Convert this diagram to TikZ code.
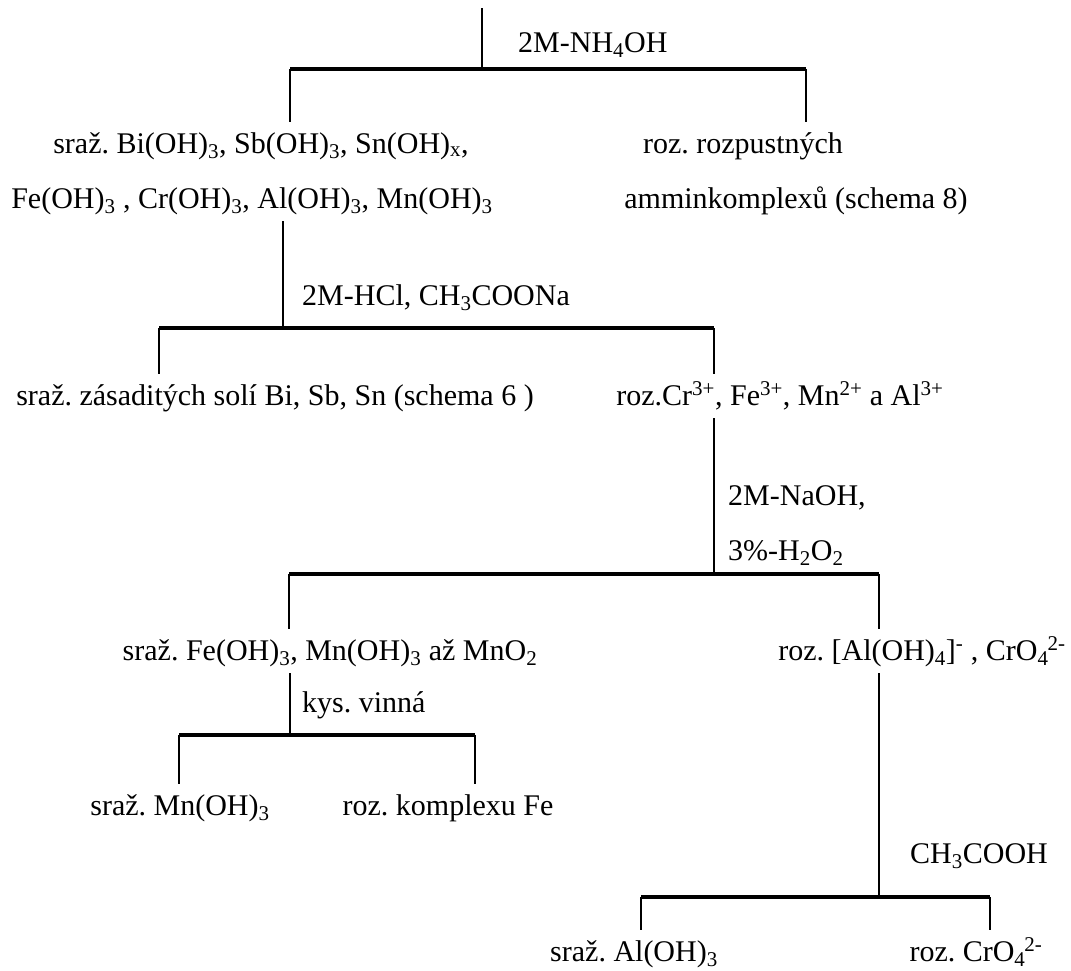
\documentclass[tikz,border=0pt]{standalone}
\usepackage{fontspec}
\setmainfont{Liberation Serif}
\begin{document}
\frenchspacing
\begin{tikzpicture}[x=1pt,y=-1pt,
  txt/.style={font=\fontsize{30}{34}\selectfont\frenchspacing, inner xsep=0pt, inner ysep=6pt, text height=25pt, text depth=7pt, anchor=base},
  lab/.style={font=\fontsize{30}{34}\selectfont\frenchspacing, inner sep=0pt, anchor=base west},
  vline/.style={line width=2.2pt},
  hbar/.style={line width=3.4pt}]
\fill[white] (0,0) rectangle (1071,970);
\useasboundingbox (0,0) rectangle (1071,970);
% junction coordinates
\coordinate (t0) at (482,8);
\coordinate (b1m) at (482,69);
\coordinate (b1L) at (290,69);
\coordinate (b1R) at (806,69);
\coordinate (b2m) at (283,328);
\coordinate (b2L) at (159,328);
\coordinate (b2R) at (714,328);
\coordinate (b3m) at (714,574);
\coordinate (b3L) at (289,574);
\coordinate (b3R) at (879,574);
\coordinate (b4m) at (290,735);
\coordinate (b4L) at (179,735);
\coordinate (b4R) at (475,735);
\coordinate (b5m) at (879,897);
\coordinate (b5L) at (641,897);
\coordinate (b5R) at (990,897);
% texts
\node[txt] (n1a) at (261,153) {sraž. Bi(OH)\textsubscript{3}, Sb(OH)\textsubscript{3}, Sn(OH)\textsubscript{x},};
\node[txt] (n1b) at (252,208) {Fe(OH)\textsubscript{3} , Cr(OH)\textsubscript{3}, Al(OH)\textsubscript{3}, Mn(OH)\textsubscript{3}};
\node[txt] (n1c) at (743,153) {roz. rozpustných};
\node[txt] (n1d) at (796,208) {amminkomplexů (schema 8)};
\node[txt] (n2a) at (275,405) {sraž. zásaditých solí Bi, Sb, Sn (schema 6 )};
\node[txt] (n2b) at (780,405) {roz.Cr\textsuperscript{3+}, Fe\textsuperscript{3+}, Mn\textsuperscript{2+} a Al\textsuperscript{3+}};
\node[txt] (n3a) at (330,660) {sraž. Fe(OH)\textsubscript{3}, Mn(OH)\textsubscript{3} až MnO\textsubscript{2}};
\node[txt] (n3b) at (922,660) {roz. [Al(OH)\textsubscript{4}]\textsuperscript{-} , CrO\textsubscript{4}\kern-1pt\textsuperscript{2-}};
\node[txt] (n4a) at (180,815) {sraž. Mn(OH)\textsubscript{3}};
\node[txt] (n4b) at (448,815) {roz. komplexu Fe};
\node[txt] (n5a) at (634,961) {sraž. Al(OH)\textsubscript{3}};
\node[txt] (n5b) at (976,961) {roz. CrO\textsubscript{4}\kern-1pt\textsuperscript{2-}};
% reagent labels
\node[lab] (r1) at (518,52) {2M-NH\textsubscript{4}OH};
\node[lab] (r2) at (302,305) {2M-HCl, CH\textsubscript{3}COONa};
\node[lab] (r3a) at (728,505) {2M-NaOH,};
\node[lab] (r3b) at (728,560) {3\%-H\textsubscript{2}O\textsubscript{2}};
\node[lab] (r4) at (302,712) {kys. vinná};
\node[lab] (r5) at (910,863) {CH\textsubscript{3}COOH};
% connectors
\draw[vline] (t0) -- (b1m);
\draw[hbar] (b1L) -- (b1R);
\draw[vline] (b1L) -- (b1L |- n1a.north);
\draw[vline] (b1R) -- (b1R |- n1c.north);
\draw[vline] (n1b.south -| b2m) -- (b2m);
\draw[hbar] (b2L) -- (b2R);
\draw[vline] (b2L) -- (b2L |- n2a.north);
\draw[vline] (b2R) -- (b2R |- n2b.north);
\draw[vline] (n2b.south -| b3m) -- (b3m);
\draw[hbar] (b3L) -- (b3R);
\draw[vline] (b3L) -- (b3L |- n3a.north);
\draw[vline] (b3R) -- (b3R |- n3b.north);
\draw[vline] (n3a.south -| b4m) -- (b4m);
\draw[hbar] (b4L) -- (b4R);
\draw[vline] (b4L) -- (b4L |- n4a.north);
\draw[vline] (b4R) -- (b4R |- n4b.north);
\draw[vline] (n3b.south -| b5m) -- (b5m);
\draw[hbar] (b5L) -- (b5R);
\draw[vline] (b5L) -- (b5L |- n5a.north);
\draw[vline] (b5R) -- (b5R |- n5b.north);
\end{tikzpicture}
\end{document}
